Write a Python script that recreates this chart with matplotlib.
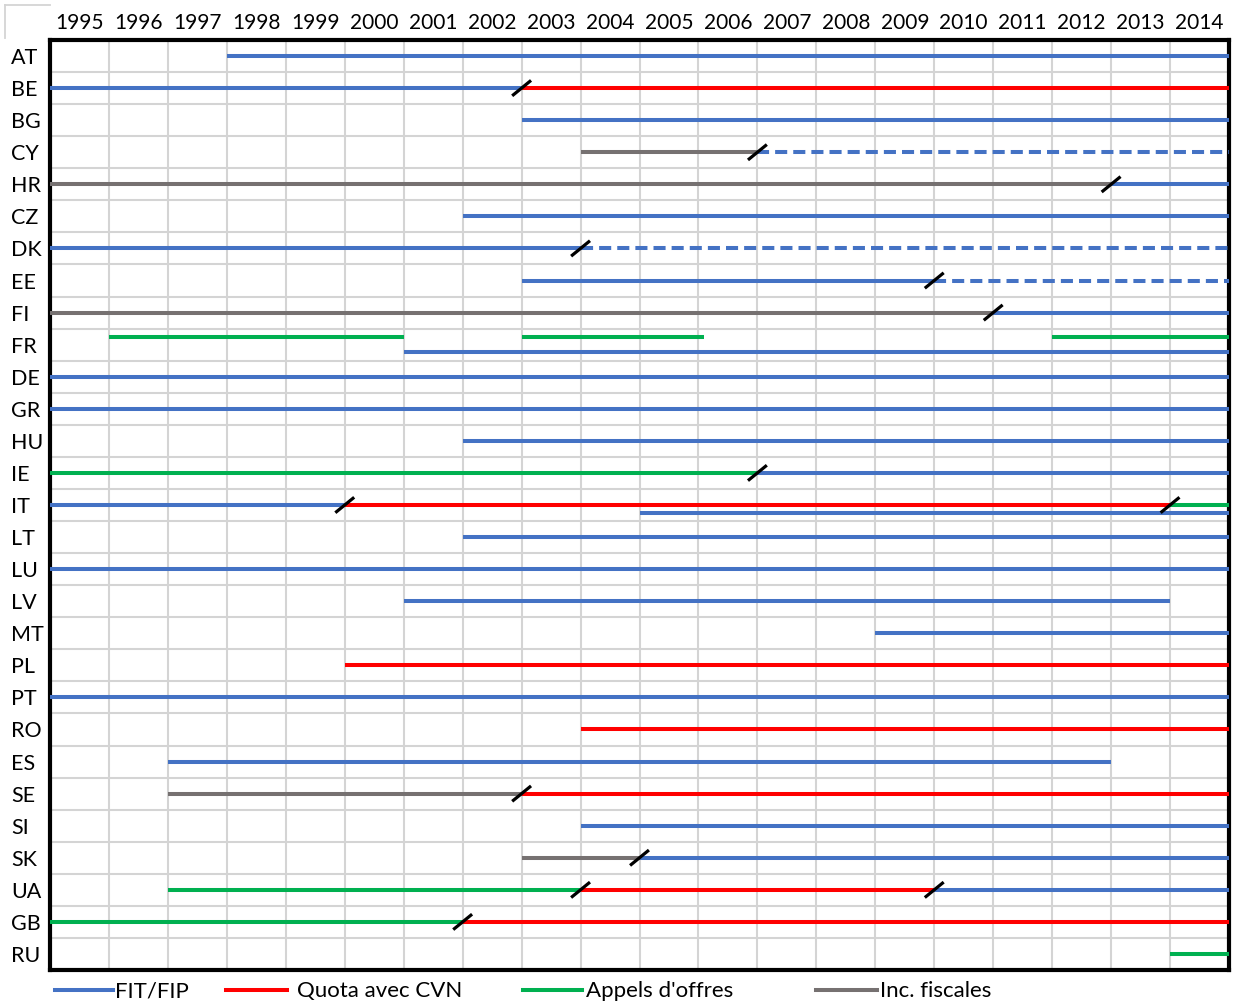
import matplotlib
import matplotlib.pyplot as plt
from matplotlib.lines import Line2D

matplotlib.use('Agg')

plt.rcParams['font.family'] = ['Lato', 'DejaVu Sans']

years = list(range(1995, 2015))
countries = ['AT', 'BE', 'BG', 'CY', 'HR', 'CZ', 'DK', 'EE', 'FI', 'FR',
             'DE', 'GR', 'HU', 'IE', 'IT', 'LT', 'LU', 'LV', 'MT', 'PL',
             'PT', 'RO', 'ES', 'SE', 'SI', 'SK', 'UA', 'GB', 'RU']

# one entry per scheme period: country, start year, end year, scheme kind
seg_country = ['AT', 'BE', 'BE', 'BG', 'CY', 'CY', 'HR', 'HR', 'CZ', 'DK',
               'DK', 'EE', 'EE', 'FI', 'FI', 'FR', 'FR', 'FR', 'FR', 'DE',
               'GR', 'HU', 'IE', 'IE', 'IT', 'IT', 'IT', 'IT', 'LT', 'LU',
               'LV', 'MT', 'PL', 'PT', 'RO', 'ES', 'SE', 'SE', 'SI', 'SK',
               'SK', 'UA', 'UA', 'UA', 'GB', 'GB', 'RU']
seg_start = [1998, 1995, 2003, 2003, 2004, 2007, 1995, 2013, 2002, 1995,
             2004, 2003, 2010, 1995, 2011, 1996, 2003, 2012, 2001, 1995,
             1995, 2002, 1995, 2007, 1995, 2000, 2014, 2005, 2002, 1995,
             2001, 2009, 2000, 1995, 2004, 1997, 1997, 2003, 2004, 2003,
             2005, 1997, 2004, 2010, 1995, 2002, 2014]
seg_end = [2015, 2003, 2015, 2015, 2007, 2015, 2013, 2015, 2015, 2004,
           2015, 2010, 2015, 2011, 2015, 2001, 2006.1, 2015, 2015, 2015,
           2015, 2015, 2007, 2015, 2000, 2014, 2015, 2015, 2015, 2015,
           2014, 2015, 2015, 2015, 2015, 2013, 2003, 2015, 2015, 2005,
           2015, 2004, 2010, 2015, 2002, 2015, 2015]
seg_kind = ['FIT', 'FIT', 'QUOTA', 'FIT', 'TAX', 'FIT', 'TAX', 'FIT', 'FIT', 'FIT',
            'FIT', 'FIT', 'FIT', 'TAX', 'FIT', 'TENDER', 'TENDER', 'TENDER', 'FIT', 'FIT',
            'FIT', 'FIT', 'TENDER', 'FIT', 'FIT', 'QUOTA', 'TENDER', 'FIT', 'FIT', 'FIT',
            'FIT', 'FIT', 'QUOTA', 'FIT', 'QUOTA', 'FIT', 'TAX', 'QUOTA', 'FIT', 'TAX',
            'FIT', 'TENDER', 'QUOTA', 'FIT', 'TENDER', 'QUOTA', 'TENDER']
# dashed periods (CY, DK, EE after the change)
seg_dashed = [False, False, False, False, False, True, False, False, False, False,
              True, False, True, False, False, False, False, False, False, False,
              False, False, False, False, False, False, False, False, False, False,
              False, False, False, False, False, False, False, False, False, False,
              False, False, False, False, False, False, False]
# second track inside a row (FR and IT have two parallel schemes)
seg_track = [0] * 47
seg_track[15] = seg_track[16] = seg_track[17] = -1
seg_track[18] = 1
seg_track[27] = 1

# scheme switches, drawn as a black slash
switch_country = ['BE', 'CY', 'HR', 'DK', 'EE', 'FI', 'IE', 'IT', 'IT',
                  'SE', 'SK', 'UA', 'UA', 'GB']
switch_year = [2003, 2007, 2013, 2004, 2010, 2011, 2007, 2000, 2014,
               2003, 2005, 2004, 2010, 2002]

legend_labels = {'FIT': 'FIT/FIP', 'QUOTA': 'Quota avec CVN',
                 'TENDER': "Appels d'offres", 'TAX': 'Inc. fiscales'}
colors = {'FIT': '#4472C4', 'QUOTA': '#FF0000', 'TENDER': '#00B050', 'TAX': '#767171'}

W, H = 1237, 1005
fig = plt.figure(figsize=(W / 100, H / 100), dpi=100)
ax = fig.add_axes([50 / W, (H - 970) / H, (1229 - 50) / W, (970 - 40) / H])

row = {c: i + 0.5 for i, c in enumerate(countries)}
track_shift = 0.24

for c, s, e, k, d, t in zip(seg_country, seg_start, seg_end, seg_kind, seg_dashed, seg_track):
    y = row[c] + t * track_shift
    ax.plot([s, e], [y, y], color=colors[k], lw=2.9,
            linestyle=(0, (3, 1.5)) if d else '-', solid_capstyle='butt', zorder=3)

for c, yr in zip(switch_country, switch_year):
    y = row[c]
    ax.plot([yr - 0.16, yr + 0.16], [y + 0.24, y - 0.24], color='black', lw=2.3,
            solid_capstyle='butt', zorder=4)

ax.set_xlim(years[0], years[-1] + 1)
ax.set_ylim(len(countries), 0)

# grid: one cell per year and per country
for yr in years[1:]:
    ax.axvline(yr, color='#D4D4D4', lw=1.5, zorder=1)
for i in range(1, len(countries)):
    ax.axhline(i, color='#D4D4D4', lw=1.5, zorder=1)

ax.xaxis.tick_top()
ax.set_xticks([yr + 0.5 for yr in years])
ax.set_xticklabels([str(yr) for yr in years], fontsize=15)
ax.set_yticks([row[c] for c in countries])
ax.set_yticklabels(countries, fontsize=15.5, ha='left')
ax.tick_params(axis='x', length=0, pad=5)
ax.tick_params(axis='y', length=0, pad=28)

for sp in ax.spines.values():
    sp.set_linewidth(3)
    sp.set_color('black')

# spreadsheet corner in the top left
fig.add_artist(Line2D([5 / W, 50 / W], [1 - 5 / H, 1 - 5 / H], color='#D4D4D4', lw=1.3))
fig.add_artist(Line2D([5 / W, 5 / W], [1 - 5 / H, 1 - 38 / H], color='#D4D4D4', lw=1.3))

# legend along the bottom
legend_pos = [(55, 113, 115), (226, 287, 297), (523, 582, 586), (816, 877, 880)]
for k, (x0, x1, xt) in zip(['FIT', 'QUOTA', 'TENDER', 'TAX'], legend_pos):
    yl = 1 - 990 / H
    fig.add_artist(Line2D([x0 / W, x1 / W], [yl, yl], color=colors[k], lw=2.9))
    fig.text(xt / W, 1 - 991 / H, legend_labels[k], fontsize=16, va='center', ha='left')

fig.savefig('out.png', dpi=100)
